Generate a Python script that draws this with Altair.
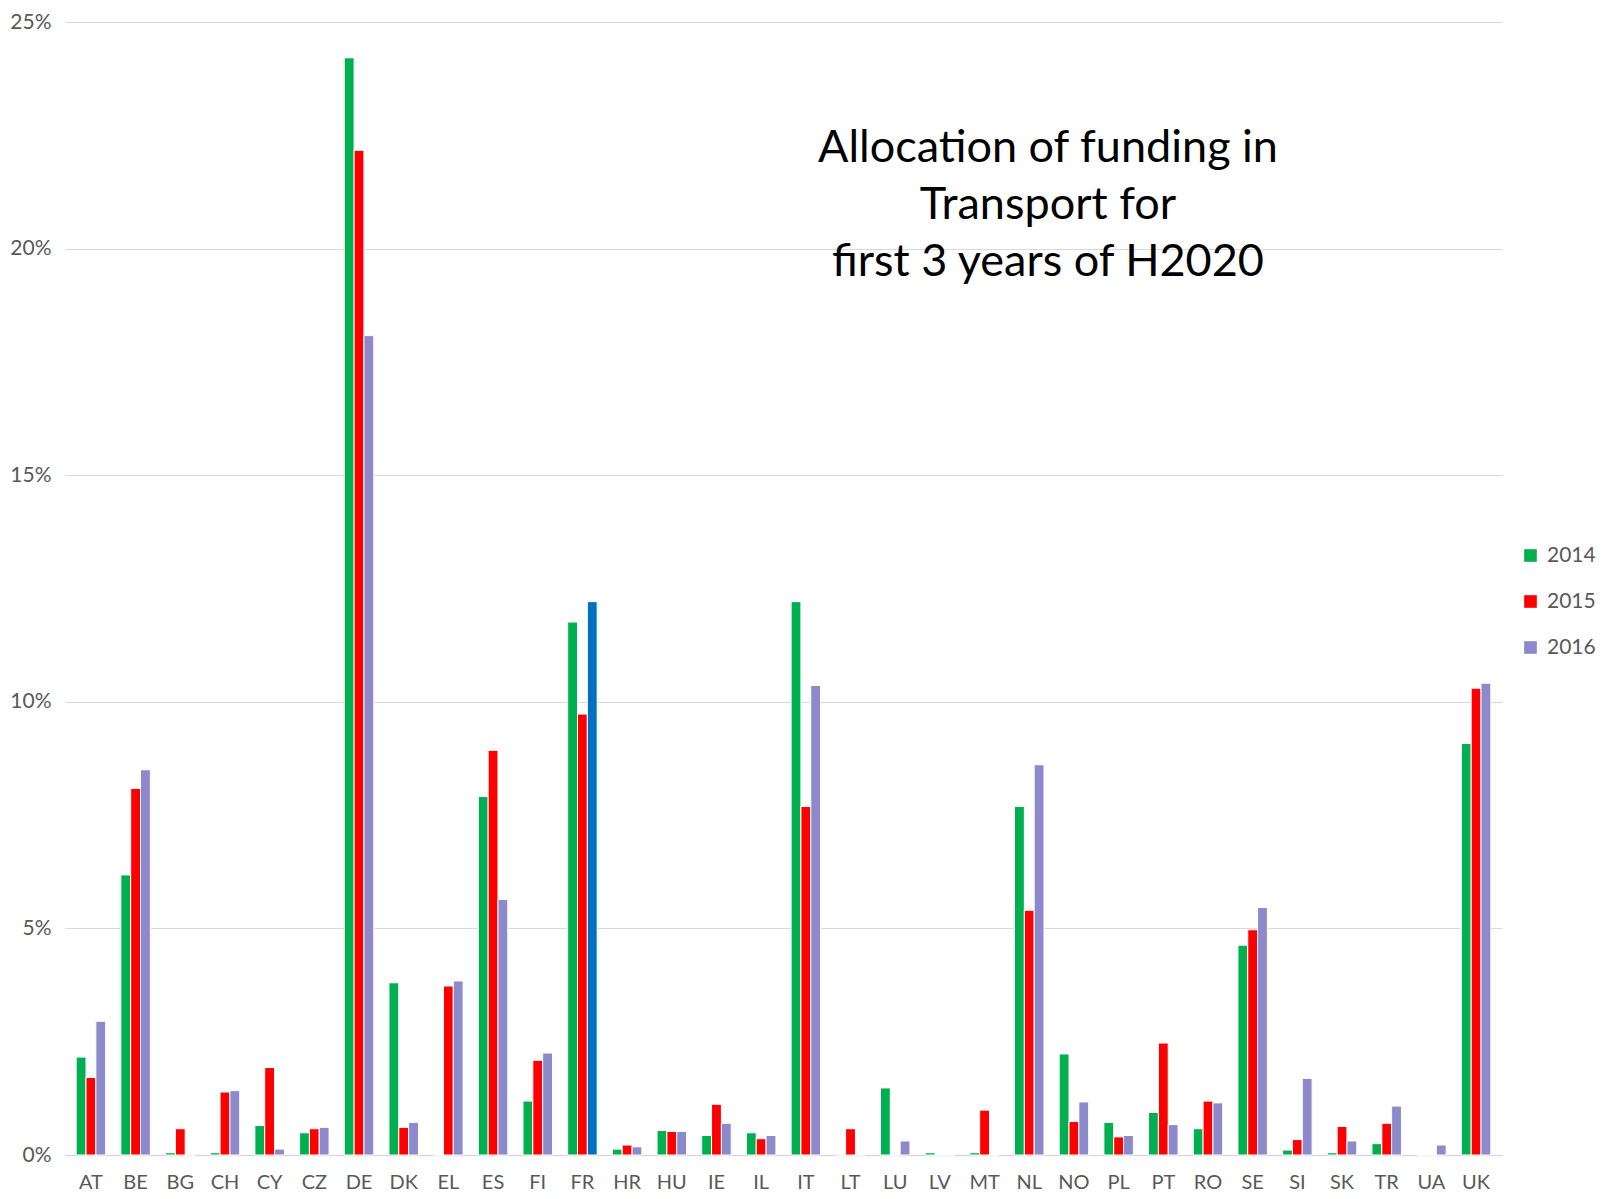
import altair as alt
import pandas as pd

countries = ["AT", "BE", "BG", "CH", "CY", "CZ", "DE", "DK", "EL", "ES", "FI", "FR",
             "HR", "HU", "IE", "IL", "IT", "LT", "LU", "LV", "MT", "NL", "NO", "PL",
             "PT", "RO", "SE", "SI", "SK", "TR", "UA", "UK"]
years = ["2014", "2015", "2016"]

v2014 = [2.16, 6.18, 0.05, 0.05, 0.65, 0.49, 24.21, 3.80, 0.0, 7.91, 1.19, 11.76,
         0.13, 0.54, 0.43, 0.49, 12.21, 0.0, 1.48, 0.05, 0.05, 7.69, 2.23, 0.72,
         0.94, 0.58, 4.63, 0.11, 0.05, 0.25, 0.0, 9.08]
v2015 = [1.71, 8.09, 0.58, 1.39, 1.93, 0.58, 22.17, 0.61, 3.73, 8.93, 2.09, 9.73,
         0.22, 0.52, 1.12, 0.36, 7.69, 0.58, 0.0, 0.0, 0.99, 5.40, 0.74, 0.40,
         2.47, 1.19, 4.97, 0.34, 0.63, 0.70, 0.0, 10.30]
v2016 = [2.95, 8.50, 0.0, 1.42, 0.13, 0.61, 18.08, 0.72, 3.84, 5.64, 2.25, 12.21,
         0.18, 0.52, 0.70, 0.43, 10.36, 0.0, 0.31, 0.0, 0.0, 8.61, 1.17, 0.43,
         0.67, 1.15, 5.46, 1.69, 0.31, 1.08, 0.22, 10.41]

series_colors = ["#00B050", "#FF0000", "#8C8ACB"]
highlight_color = "#0070C0"
title_lines = ["Allocation of funding in", "Transport for", "first 3 years of H2020"]

rows = []
for yr, vals in zip(years, [v2014, v2015, v2016]):
    for c, v in zip(countries, vals):
        rows.append({"country": c, "year": yr, "share": v / 100.0})
df = pd.DataFrame(rows)

FONT = "Lato"
GRAY = "#595959"
W, H = 1437, 1133

bars = alt.Chart(df).mark_bar(stroke="white", strokeWidth=1).encode(
    x=alt.X("country:N", sort=countries, title=None,
            scale=alt.Scale(paddingInner=0.34, paddingOuter=0.25),
            axis=alt.Axis(labelAngle=0, labelFontSize=20, labelColor=GRAY, labelFont=FONT,
                          ticks=False, labelPadding=17, domainColor="#D9D9D9",
                          domainWidth=1.5, grid=False)),
    xOffset=alt.XOffset("year:N", sort=years, scale=alt.Scale(paddingInner=0.0)),
    y=alt.Y("share:Q", title=None,
            scale=alt.Scale(domain=[0, 0.25], nice=False),
            axis=alt.Axis(format=".0%", values=[0, 0.05, 0.10, 0.15, 0.20, 0.25],
                          labelFontSize=21, labelColor=GRAY, labelFont=FONT,
                          ticks=False, domain=False, labelPadding=14,
                          gridColor="#D9D9D9", gridWidth=1)),
    color=alt.condition(
        "datum.country == 'FR' && datum.year == '2016'",
        alt.value(highlight_color),
        alt.Color("year:N", sort=years,
                  scale=alt.Scale(domain=years, range=series_colors),
                  legend=alt.Legend(title=None, orient="none", legendX=1455, legendY=523,
                                    symbolType="square", symbolSize=160,
                                    symbolStrokeWidth=0, labelFontSize=21,
                                    labelColor=GRAY, labelFont=FONT, rowPadding=24,
                                    labelOffset=6, padding=0)),
    ),
)

title_df = pd.DataFrame({"t": ["\n".join(title_lines)]})
title = alt.Chart(title_df).mark_text(
    font=FONT, fontSize=45, color="black", align="center", baseline="alphabetic",
    lineBreak="\n", lineHeight=57,
).encode(text="t:N", x=alt.value(983), y=alt.value(140))

chart = alt.layer(bars, title).properties(
    width=W, height=H,
    autosize=alt.AutoSizeParams(type="none"),
    padding={"left": 57, "top": 14, "right": 103, "bottom": 36},
).configure(background="white").configure_view(stroke=None)

chart.save("out.html", embed_options={"renderer": "svg", "actions": False})
